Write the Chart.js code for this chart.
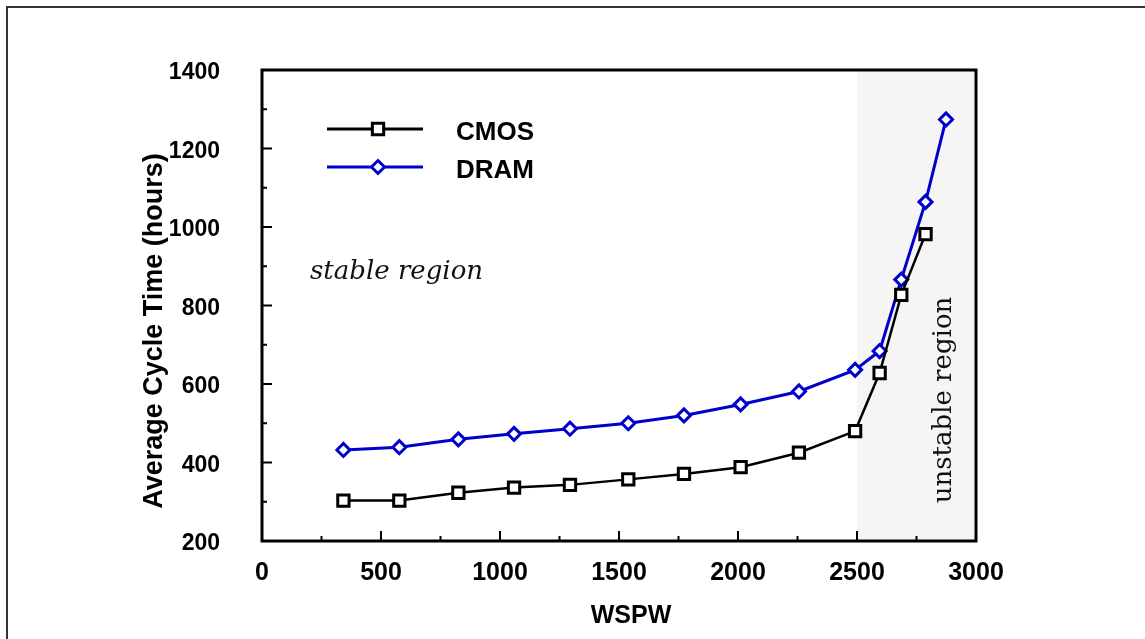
<!DOCTYPE html>
<html>
<head>
<meta charset="utf-8">
<script src="https://cdn.jsdelivr.net/npm/chart.js@4/dist/chart.umd.min.js"></script>
<style>
  html, body { margin: 0; padding: 0; background: #fff; }
  #wrap { width: 1145px; height: 639px; }
</style>
</head>
<body>
<div id="wrap"><canvas id="grafico" width="1145" height="639"></canvas></div>
<script>
const wspw = [342, 577, 825, 1059, 1294, 1539, 1773, 2011, 2256, 2492, 2595, 2686, 2788, 2874];
const cmos = [303, 303, 323, 336, 343, 357, 371, 388, 425, 480, 628, 827, 982];
const dram = [432, 439, 459, 473, 486, 500, 520, 548, 581, 636, 684, 866, 1064, 1274];

const xMinorTicks = [250, 750, 1250, 1750, 2250, 2750];
const yMinorTicks = [300, 500, 700, 900, 1100, 1300];

const unstableFrom = 2500;
const unstableTo = 3000;

const FONTE = "'Liberation Sans', Arial, sans-serif";
const SERIFA = "'DejaVu Serif', serif";
const AZUL = "#0000cc";

function pontos(xs, ys) {
  return ys.map((y, i) => ({ x: xs[i], y: y }));
}

const extras = {
  id: "extras",
  beforeDraw(chart) {
    const ctx = chart.ctx;
    ctx.save();
    ctx.fillStyle = "#333";
    ctx.fillRect(6, 6, chart.width - 6, 2);
    ctx.fillRect(6, 6, 2, chart.height - 6);
    ctx.restore();
  },
  beforeDatasetsDraw(chart) {
    const ctx = chart.ctx;
    const area = chart.chartArea;
    const x = chart.scales.x;
    const x0 = x.getPixelForValue(unstableFrom);
    const x1 = x.getPixelForValue(unstableTo);
    ctx.save();
    ctx.fillStyle = "#f5f5f5";
    ctx.fillRect(x0, area.top, x1 - x0, area.bottom - area.top);

    ctx.fillStyle = "#111";
    ctx.font = "italic 26px " + SERIFA;
    ctx.textBaseline = "alphabetic";
    ctx.fillText("stable region", 310, 279);

    ctx.translate(944, 400);
    ctx.rotate(-Math.PI / 2);
    ctx.font = "26px " + SERIFA;
    ctx.textAlign = "center";
    ctx.textBaseline = "middle";
    ctx.fillText("unstable region", 0, 0);
    ctx.restore();
  },
  afterDraw(chart) {
    const ctx = chart.ctx;
    const area = chart.chartArea;
    const x = chart.scales.x;
    const y = chart.scales.y;
    ctx.save();

    // moldura
    ctx.strokeStyle = "#000";
    ctx.lineWidth = 3;
    ctx.strokeRect(area.left, area.top, area.right - area.left, area.bottom - area.top);

    // ticks internos
    ctx.lineWidth = 2;
    ctx.beginPath();
    x.ticks.forEach((t) => {
      const px = x.getPixelForValue(t.value);
      ctx.moveTo(px, area.bottom);
      ctx.lineTo(px, area.bottom - 10);
    });
    xMinorTicks.forEach((v) => {
      const px = x.getPixelForValue(v);
      ctx.moveTo(px, area.bottom);
      ctx.lineTo(px, area.bottom - 5);
    });
    y.ticks.forEach((t) => {
      const py = y.getPixelForValue(t.value);
      ctx.moveTo(area.left, py);
      ctx.lineTo(area.left + 10, py);
    });
    yMinorTicks.forEach((v) => {
      const py = y.getPixelForValue(v);
      ctx.moveTo(area.left, py);
      ctx.lineTo(area.left + 5, py);
    });
    ctx.stroke();

    // titulos dos eixos
    ctx.fillStyle = "#000";
    ctx.font = "bold 25px " + FONTE;
    ctx.textAlign = "center";
    ctx.textBaseline = "middle";
    ctx.fillText("WSPW", 631, 616);

    ctx.save();
    ctx.translate(155, 331);
    ctx.rotate(-Math.PI / 2);
    ctx.font = "bold 27px " + FONTE;
    ctx.fillText("Average Cycle Time (hours)", 0, 0);
    ctx.restore();

    // legenda
    const itens = [
      { texto: "CMOS", cor: "#000", estilo: "rect", raio: 8, y: 129 },
      { texto: "DRAM", cor: AZUL, estilo: "rectRot", raio: 6.5, y: 167 }
    ];
    itens.forEach((it) => {
      ctx.strokeStyle = it.cor;
      ctx.lineWidth = 3;
      ctx.beginPath();
      ctx.moveTo(327, it.y);
      ctx.lineTo(423, it.y);
      ctx.stroke();
      ctx.fillStyle = "#fff";
      Chart.helpers.drawPoint(ctx, {
        pointStyle: it.estilo,
        radius: it.raio,
        borderWidth: 3,
        rotation: 0
      }, 378, it.y);
      ctx.fillStyle = "#000";
      ctx.font = "bold 26px " + FONTE;
      ctx.textAlign = "left";
      ctx.textBaseline = "middle";
      ctx.fillText(it.texto, 456, it.y + 4);
    });

    ctx.restore();
  }
};

new Chart(document.getElementById("grafico"), {
  type: "line",
  data: {
    datasets: [
      {
        label: "CMOS",
        data: pontos(wspw, cmos),
        borderColor: "#000",
        borderWidth: 2.5,
        pointStyle: "rect",
        pointRadius: 8,
        pointBorderWidth: 3,
        pointBackgroundColor: "#fff",
        pointBorderColor: "#000",
        tension: 0
      },
      {
        label: "DRAM",
        data: pontos(wspw, dram),
        borderColor: AZUL,
        borderWidth: 3,
        pointStyle: "rectRot",
        pointRadius: 6.5,
        pointBorderWidth: 3,
        pointBackgroundColor: "#fff",
        pointBorderColor: AZUL,
        tension: 0
      }
    ]
  },
  options: {
    responsive: false,
    animation: false,
    layout: {
      padding: { left: 0, top: 70, right: 169, bottom: 0 }
    },
    plugins: {
      legend: { display: false },
      tooltip: { enabled: false }
    },
    scales: {
      x: {
        type: "linear",
        min: 0,
        max: 3000,
        afterFit(scale) { scale.height = 98; },
        grid: { display: false },
        border: { display: false },
        ticks: {
          stepSize: 500,
          color: "#000",
          padding: 9,
          callback: (v) => String(v),
          font: { family: FONTE, size: 25, weight: "bold" }
        }
      },
      y: {
        min: 200,
        max: 1400,
        afterFit(scale) { scale.width = 262; },
        grid: { display: false },
        border: { display: false },
        ticks: {
          stepSize: 200,
          color: "#000",
          padding: 34,
          labelOffset: 3,
          callback: (v) => String(v),
          font: { family: FONTE, size: 23, weight: "bold" }
        }
      }
    }
  },
  plugins: [extras]
});
</script>
</body>
</html>
